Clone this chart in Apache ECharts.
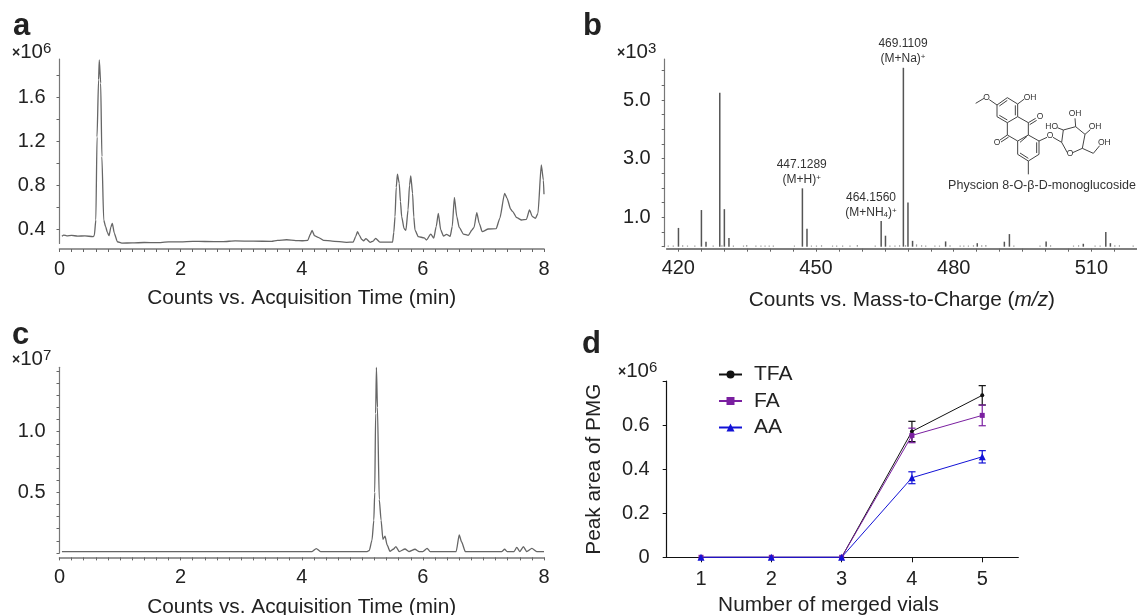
<!DOCTYPE html>
<html>
<head>
<meta charset="utf-8">
<style>html,body{margin:0;padding:0;background:#fff}#c{width:1137px;height:615px}canvas{filter:blur(0.35px)}</style>
<script src="https://cdn.jsdelivr.net/npm/echarts@6/dist/echarts.min.js"></script>
</head>
<body>
<div id="c"></div>
<script>
// ---------- Data ----------
const traceA = [[0.04,0.335],[0.07,0.345],[0.12,0.338],[0.2,0.342],[0.3,0.335],[0.42,0.338],[0.55,0.33],[0.575,0.34],[0.6,0.482],[0.62,1.24],[0.645,1.76],[0.657,1.94],[0.68,1.73],[0.70,1.06],[0.73,0.482],[0.762,0.421],[0.79,0.37],[0.817,0.339],[0.85,0.42],[0.872,0.452],[0.905,0.363],[0.955,0.284],[1.03,0.272],[1.2,0.273],[1.4,0.277],[1.6,0.276],[1.8,0.282],[2.0,0.283],[2.2,0.287],[2.4,0.286],[2.7,0.285],[2.9,0.292],[3.2,0.289],[3.5,0.288],[3.6,0.297],[3.75,0.302],[3.9,0.295],[4.0,0.293],[4.1,0.297],[4.14,0.35],[4.17,0.388],[4.21,0.339],[4.27,0.324],[4.36,0.297],[4.5,0.29],[4.74,0.279],[4.85,0.281],[4.89,0.33],[4.92,0.376],[4.95,0.345],[4.99,0.306],[5.02,0.293],[5.06,0.312],[5.13,0.279],[5.18,0.29],[5.22,0.315],[5.29,0.281],[5.50,0.281],[5.52,0.37],[5.54,0.512],[5.56,0.78],[5.58,0.90],[5.61,0.816],[5.63,0.65],[5.65,0.512],[5.69,0.403],[5.72,0.388],[5.755,0.573],[5.78,0.80],[5.80,0.883],[5.83,0.725],[5.85,0.51],[5.87,0.39],[5.925,0.33],[6.02,0.32],[6.06,0.30],[6.13,0.354],[6.18,0.318],[6.22,0.421],[6.255,0.543],[6.295,0.391],[6.34,0.336],[6.39,0.352],[6.45,0.333],[6.485,0.421],[6.52,0.689],[6.56,0.512],[6.60,0.415],[6.67,0.354],[6.75,0.342],[6.81,0.391],[6.845,0.415],[6.89,0.549],[6.93,0.452],[6.98,0.376],[7.08,0.40],[7.21,0.403],[7.27,0.497],[7.35,0.725],[7.39,0.68],[7.45,0.58],[7.48,0.561],[7.55,0.503],[7.63,0.482],[7.71,0.488],[7.76,0.573],[7.81,0.512],[7.86,0.497],[7.90,0.543],[7.955,0.983],[7.99,0.846],[8.0,0.716]];
const traceC = [[0.04,0.011],[2,0.011],[4,0.011],[4.17,0.011],[4.24,0.036],[4.31,0.011],[5.08,0.011],[5.115,0.02],[5.16,0.106],[5.19,0.27],[5.205,0.5],[5.22,1.15],[5.233,1.53],[5.25,1.2],[5.28,0.44],[5.31,0.27],[5.34,0.112],[5.375,0.139],[5.41,0.065],[5.457,0.013],[5.51,0.03],[5.555,0.051],[5.61,0.011],[5.705,0.032],[5.77,0.011],[5.87,0.03],[5.94,0.011],[6.0,0.011],[6.07,0.038],[6.12,0.011],[6.55,0.011],[6.60,0.148],[6.64,0.09],[6.70,0.011],[7.30,0.011],[7.35,0.03],[7.39,0.011],[7.505,0.011],[7.55,0.046],[7.60,0.011],[7.66,0.051],[7.715,0.011],[7.80,0.038],[7.88,0.011],[8.0,0.011]];
const spectrumPeaks = [[420,0.64],[425,1.25],[426,0.17],[429,5.25],[430,1.28],[431,0.30],[447,1.99],[448,0.61],[464.16,0.876],[465.1,0.375],[469,6.1],[470,1.51],[471,0.2],[478.2,0.18],[485.1,0.12],[491,0.17],[492.1,0.43],[500.1,0.18],[508.2,0.1],[513.1,0.5],[514.1,0.12]];
const spectrumNoise = [[417.8,0.04],[418.9,0.04],[420.95,0.05],[422,0.04],[423.6,0.04],[427.6,0.04],[429.5,0.05],[432,0.04],[434.2,0.04],[434.9,0.06],[436.9,0.04],[438,0.04],[438.9,0.04],[439.8,0.04],[440.7,0.04],[445.3,0.04],[449,0.04],[450.1,0.04],[451.2,0.05],[453.6,0.04],[454.5,0.04],[455.8,0.04],[457.4,0.04],[459,0.06],[462.9,0.04],[466.1,0.04],[467.2,0.04],[468.2,0.05],[469.5,0.05],[471.9,0.08],[473,0.05],[473.9,0.04],[475.9,0.04],[476.9,0.04],[479.2,0.05],[481.4,0.04],[482.2,0.04],[483.2,0.04],[484.3,0.05],[486.1,0.05],[487,0.06],[493.1,0.04],[498.8,0.04],[501.1,0.05],[506.1,0.04],[507.2,0.05],[510.8,0.04],[511.9,0.04],[515.1,0.05],[516.1,0.05],[519.1,0.04]];
const vials = [1,2,3,4,5];
const tfa = [0,0,0,0.571,0.735];
const tfaErr = [0,0,0,0.046,0.044];
const fa = [0,0,0,0.553,0.644];
const faErr = [0,0,0,0.033,0.047];
const aa = [0,0,0,0.361,0.456];
const aaErr = [0,0,0,0.027,0.028];
const seriesNames = ['TFA','FA','AA'];
const timeLabels = [0,2,4,6,8];
const timeTicks = [0,.2,.4,.6,.8,1,1.2,1.4,1.6,1.8,2,2.2,2.4,2.6,2.8,3,3.2,3.4,3.6,3.8,4,4.2,4.4,4.6,4.8,5,5.2,5.4,5.6,5.8,6,6.2,6.4,6.6,6.8,7,7.2,7.4,7.6,7.8,8];
const aYLabels = [0.4,0.8,1.2,1.6];
const aYTicks = [0.4,0.6,0.8,1.0,1.2,1.4,1.6,1.8];
const bYLabels = [1,3,5];
const bYTicks = [0,0.5,1,1.5,2,2.5,3,3.5,4,4.5,5,5.5,6];
const bXLabels = [420,450,480,510];
const bXTicks = [420,425,430,435,440,445,450,455,460,465,470,475,480,485,490,495,500,505,510,515];
const cYLabels = [0.5,1.0];
const cYTicks = [0,.1,.2,.3,.4,.5,.6,.7,.8,.9,1,1.1,1.2,1.3,1.4,1.5];
const dYLabels = [0,0.2,0.4,0.6];
const dYTicks = [0,0.2,0.4,0.6,0.8];

// ---------- Styling ----------
const FONT = '"Liberation Sans", Arial, sans-serif';
const INK = '#222';
const NAME_SIZE = 20.8;
const TICK_SIZE = 20;
const colors = {TFA:'#111111', FA:'#7a1fa0', AA:'#1212d6'};
const symbols = {TFA:'circle', FA:'rect', AA:'triangle'};
const symSizes = {TFA:4, FA:5, AA:7};

function grayX(gridIndex, min, max, offset, labels, ticks, name, nameGap, lineColor) {
  return {
    type:'value', gridIndex, min, max, offset, position:'bottom', scale:true,
    splitLine:{show:false},
    axisLine:{show:true,onZero:false,lineStyle:{color:lineColor||'#777',width:1.6}},
    axisTick:{show:true,customValues:ticks,length:3,lineStyle:{color:'#666',width:1}},
    axisLabel:{show:true,customValues:labels,margin:10,fontFamily:FONT,fontSize:TICK_SIZE,color:INK,hideOverlap:false,showMinLabel:true,showMaxLabel:true},
    name, nameLocation:'middle', nameGap,
    nameTextStyle:{fontFamily:FONT,fontSize:NAME_SIZE,color:INK,rich:{i:{fontFamily:FONT,fontSize:NAME_SIZE,fontStyle:'italic',color:INK}}}
  };
}
function grayY(gridIndex, min, max, offset, labels, ticks) {
  return {
    type:'value', gridIndex, min, max, offset, scale:true,
    splitLine:{show:false},
    axisLine:{show:true,onZero:false,lineStyle:{color:'#777',width:1.2}},
    axisTick:{show:true,customValues:ticks,length:3,lineStyle:{color:'#666',width:1}},
    axisLabel:{show:true,customValues:labels,margin:14,fontFamily:FONT,fontSize:TICK_SIZE,color:INK,formatter:v=>Number(v).toFixed(1)}
  };
}
function traceSeries(i, data){
  return {type:'line',xAxisIndex:i,yAxisIndex:i,data,showSymbol:false,symbol:'none',smooth:0.2,smoothMonotone:'x',clip:false,
    lineStyle:{color:'#666666',width:1.3,join:'round'},silent:true,animation:false};
}
function spectrumSeries(data,color,w){
  return {type:'bar',xAxisIndex:1,yAxisIndex:1,data,barWidth:w,barGap:'-100%',itemStyle:{color},silent:true,animation:false};
}
function lineSeries(name, vals){
  return {name,type:'line',xAxisIndex:3,yAxisIndex:3,data:vials.map((v,i)=>[v,vals[i]]),
    symbol:symbols[name],symbolSize:symSizes[name],clip:false,
    lineStyle:{color:colors[name],width:1},itemStyle:{color:colors[name]},animation:false,z:5};
}
function errSeries(name, vals, errs){
  return {name:name+' error',type:'custom',xAxisIndex:3,yAxisIndex:3,clip:false,animation:false,z:4,
    data:vials.map((v,i)=>[v,vals[i],errs[i]]).filter(d=>d[2]>0),
    renderItem(params,api){
      const x=api.value(0),y=api.value(1),e=api.value(2);
      const hi=api.coord([x,y+e]),lo=api.coord([x,y-e]),cap=3.6;
      const style={stroke:colors[name],lineWidth:1.2,fill:null};
      return {type:'group',children:[
        {type:'line',shape:{x1:hi[0],y1:hi[1],x2:lo[0],y2:lo[1]},style},
        {type:'line',shape:{x1:hi[0]-cap,y1:hi[1],x2:hi[0]+cap,y2:hi[1]},style},
        {type:'line',shape:{x1:lo[0]-cap,y1:lo[1],x2:lo[0]+cap,y2:lo[1]},style}
      ]};
    }};
}

// ---------- Free text ----------
function txt(text,x,y,o={}){
  return {type:'text',x,y,silent:true,z:10,style:Object.assign({text,fill:o.fill||INK,
    font:o.font||('20px '+FONT),align:o.align||'left',verticalAlign:o.va||'middle'},o.rich?{rich:o.rich}:{})};
}
const panelFont='bold 31px '+FONT;
const powRich={x:{font:'bold 14px '+FONT,fill:INK,verticalAlign:'bottom',padding:[0,0,2,0]},
  n:{font:'20.5px '+FONT,fill:INK},s:{font:'15px '+FONT,fill:INK,verticalAlign:'top',padding:[0,0,6,0]}};
const annRich={n:{font:'12px '+FONT,fill:'#333'},s:{font:'8px '+FONT,fill:'#333',verticalAlign:'top',padding:[0,0,4,0]},
  u:{font:'8px '+FONT,fill:'#333',verticalAlign:'bottom',padding:[4,0,0,0]}};
function pow(exp,x,y){return txt('{x|×}{n|10}{s|'+exp+'}',x,y,{rich:powRich});}
function ann(t,x,y){return txt(t,x,y,{font:'12px '+FONT,fill:'#333',align:'center',rich:annRich});}

// ---------- Structure sketch (illustration, in its own local drawing space) ----------
const bonds=[[96,60,127,38],[127,38,158,57],[158,57,158,95],[158,95,127,113],[127,113,96,95],[96,95,96,60],
 [103,63,127,46],[103,91,127,105],[151,61,151,91],
 [158,95,190,113],[190,113,190,150],[190,150,158,168],[158,168,127,150],[127,150,127,113],
 [190,113,212,100],[194,119,215,106],[127,150,105,165],[131,156,108,171],
 [190,150,222,168],[222,168,222,208],[222,208,190,228],[190,228,158,208],[158,208,158,168],
 [215,172,215,204],[190,220,165,204],[165,172,186,154],
 [190,228,190,268],[222,168,246,157],[264,157,290,172],
 [96,60,73,44],[57,40,32,55],[158,57,178,42],
 [290,172,295,135],[295,135,332,125],[332,125,360,148],[360,148,352,190],[352,190,323,203],[307,203,290,172],
 [295,135,277,128],[332,125,330,100],[360,148,376,134],[352,190,385,205],[385,205,404,182]];
const sketchLabels=[['O',65,38],['OH',195,37],['O',225,95],['O',96,172],['O',255,153],['O',315,205],['HO',260,125],['OH',330,86],['OH',390,125],['OH',418,172]];
const sx=v=>965+v/3, sy=v=>85+v/3;
const sketch=bonds.map(b=>({type:'line',silent:true,z:9,shape:{x1:sx(b[0]),y1:sy(b[1]),x2:sx(b[2]),y2:sy(b[3])},style:{stroke:'#444',lineWidth:1}}))
 .concat(sketchLabels.map(l=>txt(l[0],sx(l[1]),sy(l[2]),{font:'8.5px '+FONT,fill:'#333',align:'center'})));

const option={
  backgroundColor:'#fff',
  animation:false,
  grid:[
    {left:59.5,top:59,width:484.5,height:184.5,outerBoundsMode:'none'},
    {left:666.7,top:59,width:470.3,height:187.7,outerBoundsMode:'none'},
    {left:59.5,top:367.3,width:484.5,height:185.6,outerBoundsMode:'none'},
    {left:666.7,top:381,width:351.6,height:176.3,outerBoundsMode:'none'}
  ],
  xAxis:[
    grayX(0,0,8,5.5,timeLabels,timeTicks,'Counts vs. Acquisition Time (min)',39),
    grayX(1,417.47,519.93,2,bXLabels,bXTicks,'Counts vs. Mass-to-Charge ({i|m/z})',41,'#555'),
    grayX(2,0,8,4.5,timeLabels,timeTicks,'Counts vs. Acquisition Time (min)',39),
    {type:'value',gridIndex:3,min:0.512,max:5.513,position:'bottom',splitLine:{show:false},
     axisLine:{show:true,onZero:false,lineStyle:{color:'#111',width:1.2}},
     axisTick:{show:true,customValues:vials,length:5,lineStyle:{color:'#111',width:1}},
     axisLabel:{show:true,customValues:vials,margin:12,fontFamily:FONT,fontSize:TICK_SIZE,color:INK},
     name:'Number of merged vials',nameLocation:'middle',nameGap:37,
     nameTextStyle:{fontFamily:FONT,fontSize:NAME_SIZE,color:INK,padding:[0,28,0,0]}}
  ],
  yAxis:[
    grayY(0,0.268,1.949,0,aYLabels,aYTicks),
    grayY(1,0,6.4,2,bYLabels,bYTicks),
    grayY(2,0,1.531,0,cYLabels,cYTicks),
    {type:'value',gridIndex:3,min:0,max:0.8,splitLine:{show:false},
     axisLine:{show:true,onZero:false,lineStyle:{color:'#111',width:1.2}},
     axisTick:{show:true,customValues:dYTicks,length:4,lineStyle:{color:'#111',width:1}},
     axisLabel:{show:true,customValues:dYLabels,margin:17,fontFamily:FONT,fontSize:TICK_SIZE,color:INK,formatter:v=>v===0?'0':Number(v).toFixed(1)},
     name:'Peak area of PMG',nameLocation:'middle',nameGap:62,nameRotate:90,
     nameTextStyle:{fontFamily:FONT,fontSize:NAME_SIZE,color:INK}}
  ],
  legend:{show:true,left:713,top:359,orient:'vertical',data:seriesNames,itemWidth:23,itemHeight:10,itemGap:5.5,
    textStyle:{fontFamily:FONT,fontSize:21,color:INK,padding:[0,0,0,7]},selectedMode:false},
  series:[
    traceSeries(0,traceA),
    spectrumSeries(spectrumPeaks,'#555',1.5),
    spectrumSeries(spectrumNoise,'#9a9a9a',1.2),
    traceSeries(2,traceC),
    errSeries('TFA',tfa,tfaErr),errSeries('FA',fa,faErr),errSeries('AA',aa,aaErr),
    lineSeries('TFA',tfa),lineSeries('FA',fa),lineSeries('AA',aa)
  ],
  graphic:{elements:[
    txt('a',13,11,{font:panelFont,va:'top'}),
    txt('b',583,11,{font:panelFont,va:'top'}),
    txt('c',12,320,{font:panelFont,va:'top'}),
    txt('d',582,329,{font:panelFont,va:'top'}),
    pow('6',12,52),pow('3',617,52),pow('7',12,359),pow('6',618,371),
    ann('469.1109',903,44),ann('{n|(M+Na)}{s|+}',903,59),
    ann('447.1289',801.7,165),ann('{n|(M+H)}{s|+}',801.7,180),
    ann('464.1560',871,198),ann('{n|(M+NH}{u|4}{n|)}{s|+}',871,213),
    txt('Physcion 8-O-β-D-monoglucoside',1042,186,{font:'12.5px '+FONT,fill:'#333',align:'center'})
  ].concat(sketch)}
};
echarts.init(document.getElementById('c'),null,{renderer:'canvas'}).setOption(option);
</script>
</body>
</html>
